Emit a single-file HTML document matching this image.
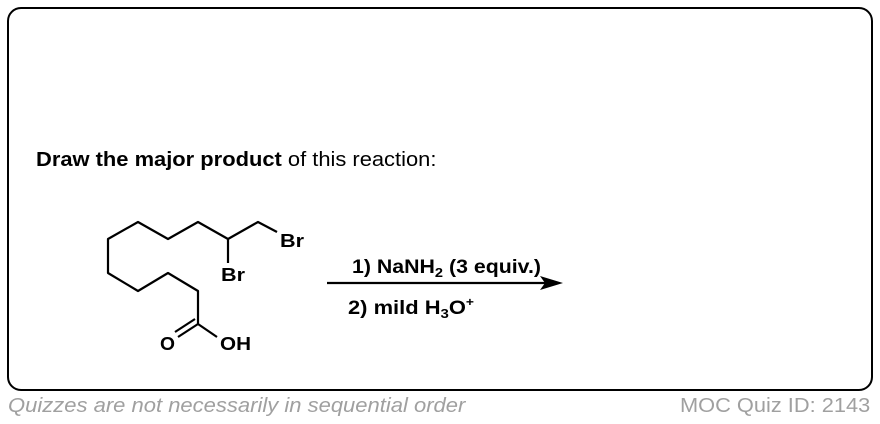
<!DOCTYPE html>
<html><head><style>
body{margin:0;width:880px;height:424px;background:#fff;position:relative;font-family:"Liberation Sans",Arial,sans-serif;overflow:hidden}
.box{position:absolute;left:7px;top:7px;width:862px;height:380px;border:2px solid #000;border-radius:14px}
.t{position:absolute;white-space:nowrap;transform-origin:0 0}
</style></head><body>
<div class="box"></div>
<div class="t" style="left:36px;top:149px;font-size:20px;transform:scaleX(1.095)"><b>Draw the major product</b> of this reaction:</div>
<div class="t" style="left:8px;top:395px;font-size:20px;color:#a0a0a0;font-style:italic;transform:scaleX(1.1)">Quizzes are not necessarily in sequential order</div>
<div class="t" style="left:680px;top:395px;font-size:20px;color:#a0a0a0;transform:scaleX(1.09)">MOC Quiz ID: 2143</div>
<svg width="880" height="424" style="position:absolute;left:0;top:0" font-family="Liberation Sans, Arial, sans-serif" font-weight="bold" font-size="18">
<g stroke="#000" stroke-width="2.2" fill="none" stroke-linejoin="round">
<polyline points="277,232 258,222 228,239 198,222 168,239 138,222 108,239 108,273 138,291 168,273 198,291 198,324 217,337"/>
<line x1="228" y1="239" x2="228" y2="263"/>
<line x1="198" y1="324" x2="178" y2="337"/>
<line x1="195" y1="319" x2="175" y2="332"/>
<line x1="327" y1="283" x2="545" y2="283"/>
</g>
<polygon points="563,283 540,276 545,283 540,290" fill="#000"/>
<text x="280" y="247" textLength="24" lengthAdjust="spacingAndGlyphs">Br</text>
<text x="221" y="281" textLength="24" lengthAdjust="spacingAndGlyphs">Br</text>
<text x="160" y="350" textLength="15" lengthAdjust="spacingAndGlyphs">O</text>
<text x="220" y="350" textLength="31" lengthAdjust="spacingAndGlyphs">OH</text>
<text x="352" y="273" font-size="19" textLength="189" lengthAdjust="spacingAndGlyphs">1) NaNH<tspan font-size="13" dy="4">2</tspan><tspan dy="-4"> (3 equiv.)</tspan></text>
<text x="348" y="314" font-size="19" textLength="126" lengthAdjust="spacingAndGlyphs">2) mild H<tspan font-size="13" dy="4">3</tspan><tspan dy="-4">O</tspan><tspan font-size="12" dy="-8">+</tspan></text>
</svg>
</body></html>
